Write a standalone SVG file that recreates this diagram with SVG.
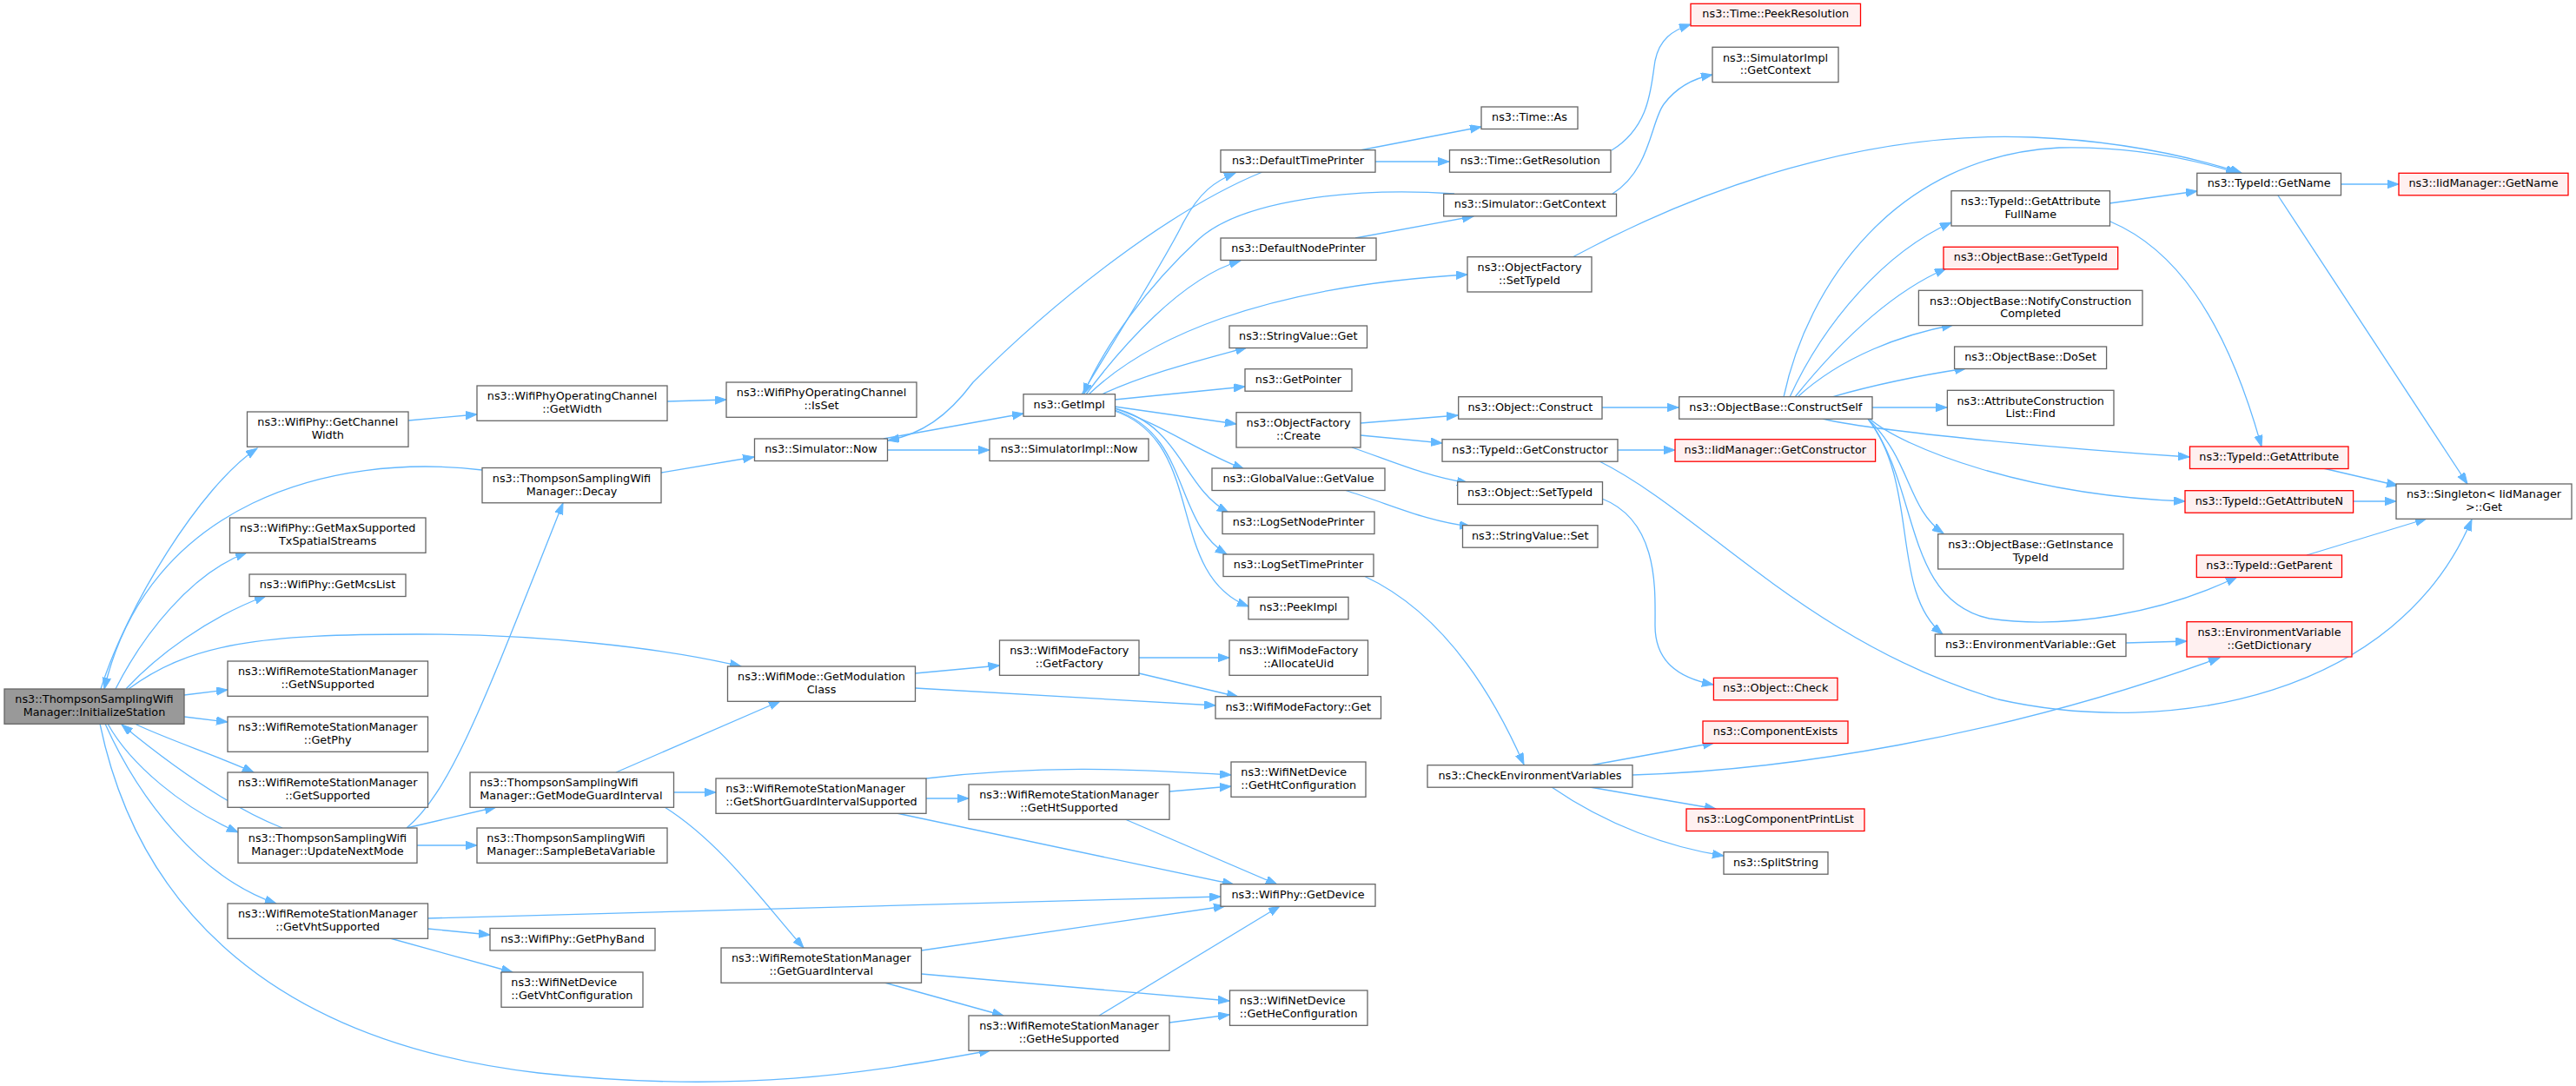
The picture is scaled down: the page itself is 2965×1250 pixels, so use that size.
<svg xmlns="http://www.w3.org/2000/svg" width="2965" height="1250" viewBox="0 0 2965 1250">
<defs>
<style>
.node rect{fill:#fff;stroke:#666;stroke-width:1.3}
.red rect{fill:#fff0f0;stroke:#f00}
.root rect{fill:#999;stroke:#666}
text{font-family:"DejaVu Sans",sans-serif;font-size:12.8px;fill:#000;text-anchor:middle}
text.l{text-anchor:start}
#edges path{fill:none;stroke:#63b8ff;stroke-width:1.3;marker-end:url(#ah)}
</style>
<marker id="ah" markerUnits="userSpaceOnUse" markerWidth="15" markerHeight="11" refX="13" refY="4.7" orient="auto"><path d="M0,0 L13,4.7 L0,9.4 z" fill="#63b8ff" stroke="#63b8ff" stroke-width="1"/></marker>
</defs>
<rect width="2965" height="1250" fill="#fff"/>
<g id="edges">
<path d="M116,793 C145,700 230,560 296,516"/>
<path d="M555,541 C380,520 170,580 120,793"/>
<path d="M133,793 C165,730 220,660 284,636"/>
<path d="M145,793 C180,755 240,710 306,686"/>
<path d="M148,793 C220,740 300,730 480,730 C620,730 760,745 853,767"/>
<path d="M212,800 L262,794"/>
<path d="M212,825 L262,831"/>
<path d="M155,833 C190,850 250,870 292,889"/>
<path d="M325,953 C280,935 220,900 140,834"/>
<path d="M124,833 C150,880 210,930 274,958"/>
<path d="M121,833 C160,920 230,1010 318,1040"/>
<path d="M115,833 C160,1050 320,1200 620,1235 C850,1260 1000,1235 1140,1209"/>
<path d="M470,484 L549,477"/>
<path d="M768,462 L836,460"/>
<path d="M761,544 L868,526"/>
<path d="M1021.5,518 L1139,518"/>
<path d="M1017,505 L1178,476"/>
<path d="M1453,198 C1350,240 1220,340 1120,440 C1090,480 1060,500 1022,507"/>
<path d="M1245,454 C1290,380 1340,300 1360,260 C1380,220 1400,208 1422,199"/>
<path d="M1674,223 C1560,215 1430,230 1380,275 C1320,330 1270,400 1247,454"/>
<path d="M1250,454 C1290,400 1360,320 1428,300"/>
<path d="M1253,454 C1320,390 1450,330 1689,316"/>
<path d="M1268,454 C1320,430 1380,415 1435,400"/>
<path d="M1283,460 L1433,445"/>
<path d="M1283,468 L1423,488"/>
<path d="M1283,470 C1340,490 1380,520 1432,540"/>
<path d="M1283,470 C1360,490 1360,560 1414,590"/>
<path d="M1283,472 C1370,500 1350,600 1412,638"/>
<path d="M1283,473 C1390,510 1340,660 1437,698"/>
<path d="M1565,173 L1705,146"/>
<path d="M1583,186 L1668,186"/>
<path d="M1855,173 C1900,145 1900,100 1905,70 C1910,45 1925,35 1946,28"/>
<path d="M1856,223 C1900,195 1900,140 1915,120 C1930,100 1950,90 1971,86"/>
<path d="M1560,274 L1696,249"/>
<path d="M1810,296 C1960,215 2150,150 2340,158 C2440,162 2520,180 2580,199"/>
<path d="M2053,457 C2080,330 2180,180 2370,170 C2460,168 2530,185 2575,199"/>
<path d="M2060,457 C2100,370 2170,290 2246,256"/>
<path d="M2066,457 C2120,390 2180,335 2240,309"/>
<path d="M2069,457 C2120,410 2190,385 2248,374"/>
<path d="M2108,457 C2150,445 2210,432 2263,424"/>
<path d="M2155,469 L2241,469"/>
<path d="M2098,482 C2150,495 2350,515 2520,526"/>
<path d="M2152,482 C2190,515 2330,570 2515,577"/>
<path d="M2150,482 C2200,530 2195,585 2237,614"/>
<path d="M2150,482 C2210,560 2190,690 2290,712 C2380,725 2490,705 2575,664"/>
<path d="M2150,482 C2210,560 2175,680 2236,730"/>
<path d="M2428,234 L2529,220"/>
<path d="M2429,255 C2500,285 2560,360 2603,514"/>
<path d="M2694.5,212 L2761,212"/>
<path d="M2622,225 L2840,557"/>
<path d="M2674,539 L2760,559"/>
<path d="M2708.6,577 L2758,577"/>
<path d="M2655,639 L2793,597"/>
<path d="M2447,740 L2517,738"/>
<path d="M1879,892 C2050,887 2300,850 2555,757"/>
<path d="M1841,531 C1960,590 2080,740 2300,805 C2500,850 2760,800 2845,598"/>
<path d="M1844,469 L1932,469"/>
<path d="M1566,487 L1678,478"/>
<path d="M1566,501 L1660,510"/>
<path d="M1556,515 C1600,530 1640,548 1690,556"/>
<path d="M1862,518 L1928,518"/>
<path d="M1844,574 C1910,600 1905,680 1905,720 C1905,760 1930,780 1972,788"/>
<path d="M1547,564 C1600,580 1640,600 1693,606"/>
<path d="M1570,663 C1650,700 1710,780 1754,880"/>
<path d="M1830,881 L1973,855"/>
<path d="M1830,906 L1975,931"/>
<path d="M1786,906 C1850,950 1920,975 1984,985"/>
<path d="M1053.5,775 L1150.5,766"/>
<path d="M1053.5,792 L1399,812"/>
<path d="M1311,757 L1415,757"/>
<path d="M1311,775 L1425,802"/>
<path d="M709,889 L898,807"/>
<path d="M468,953 L571,929"/>
<path d="M480,973 L549,973"/>
<path d="M468,953 C520,910 560,800 648,579"/>
<path d="M775.5,912 L824,912"/>
<path d="M765,929 C830,970 880,1040 925,1091"/>
<path d="M1066,896 C1200,880 1300,885 1417,892"/>
<path d="M1066,919 L1115,919"/>
<path d="M1032,936 L1420,1018"/>
<path d="M1346,911 L1417,905"/>
<path d="M1295,943 L1470,1018"/>
<path d="M492,1057 L1405,1032"/>
<path d="M492.5,1069 L564,1076"/>
<path d="M449,1080 L590,1119"/>
<path d="M1060.5,1094 L1410,1043"/>
<path d="M1060.5,1121 L1415,1152"/>
<path d="M1018,1131 L1155,1169"/>
<path d="M1265,1169 L1473,1043"/>
<path d="M1346,1177 L1415,1168"/>
</g>
<g id="n_init" class="node root"><rect x="5" y="793" width="207" height="40.3"/><text x="108.5" y="809.3">ns3::ThompsonSamplingWifi</text><text x="108.5" y="824">Manager::InitializeStation</text></g>
<g id="n_gcw" class="node"><rect x="284.5" y="474" width="185.5" height="40.3"/><text x="377.25" y="490.3">ns3::WifiPhy::GetChannel</text><text x="377.25" y="505">Width</text></g>
<g id="n_opw" class="node"><rect x="549" y="444" width="219" height="40.3"/><text x="658.5" y="460.3">ns3::WifiPhyOperatingChannel</text><text x="658.5" y="475">::GetWidth</text></g>
<g id="n_decay" class="node"><rect x="555" y="538.5" width="206" height="40.3"/><text x="658" y="554.8">ns3::ThompsonSamplingWifi</text><text x="658" y="569.5">Manager::Decay</text></g>
<g id="n_gmss" class="node"><rect x="264.5" y="596" width="225.5" height="40.3"/><text x="377.25" y="612.3">ns3::WifiPhy::GetMaxSupported</text><text x="377.25" y="627">TxSpatialStreams</text></g>
<g id="n_mcs" class="node"><rect x="287" y="661" width="180" height="25.5"/><text x="377" y="677">ns3::WifiPhy::GetMcsList</text></g>
<g id="n_gns" class="node"><rect x="262" y="761" width="230.5" height="40.3"/><text x="377.25" y="777.3">ns3::WifiRemoteStationManager</text><text x="377.25" y="792">::GetNSupported</text></g>
<g id="n_gphy" class="node"><rect x="262" y="825" width="230.5" height="40.3"/><text x="377.25" y="841.3">ns3::WifiRemoteStationManager</text><text x="377.25" y="856">::GetPhy</text></g>
<g id="n_gsup" class="node"><rect x="262" y="889" width="230.5" height="40.3"/><text x="377.25" y="905.3">ns3::WifiRemoteStationManager</text><text x="377.25" y="920">::GetSupported</text></g>
<g id="n_unm" class="node"><rect x="274" y="953" width="206" height="40.3"/><text x="377" y="969.3">ns3::ThompsonSamplingWifi</text><text x="377" y="984">Manager::UpdateNextMode</text></g>
<g id="n_gmgi" class="node"><rect x="541" y="889" width="234.5" height="40.3"/><text class="l" x="552.3" y="905.3">ns3::ThompsonSamplingWifi</text><text class="l" x="552.3" y="920">Manager::GetModeGuardInterval</text></g>
<g id="n_sbv" class="node"><rect x="549" y="953" width="219" height="40.3"/><text class="l" x="560.3" y="969.3">ns3::ThompsonSamplingWifi</text><text class="l" x="560.3" y="984">Manager::SampleBetaVariable</text></g>
<g id="n_gvht" class="node"><rect x="262" y="1040" width="230.5" height="40.3"/><text x="377.25" y="1056.3">ns3::WifiRemoteStationManager</text><text x="377.25" y="1071">::GetVhtSupported</text></g>
<g id="n_gpb" class="node"><rect x="564" y="1068.5" width="190" height="25.5"/><text x="659" y="1084.5">ns3::WifiPhy::GetPhyBand</text></g>
<g id="n_gvc" class="node"><rect x="577" y="1119" width="163" height="40.3"/><text class="l" x="588.3" y="1135.3">ns3::WifiNetDevice</text><text class="l" x="588.3" y="1150">::GetVhtConfiguration</text></g>
<g id="n_isset" class="node"><rect x="836" y="440" width="219" height="40.3"/><text x="945.5" y="456.3">ns3::WifiPhyOperatingChannel</text><text x="945.5" y="471">::IsSet</text></g>
<g id="n_snow" class="node"><rect x="868.5" y="505" width="153" height="25.5"/><text x="945" y="521">ns3::Simulator::Now</text></g>
<g id="n_sinow" class="node"><rect x="1139" y="505" width="183" height="25.5"/><text x="1230.5" y="521">ns3::SimulatorImpl::Now</text></g>
<g id="n_getimpl" class="node"><rect x="1178" y="453.7" width="105.5" height="25.5"/><text x="1230.75" y="469.7">ns3::GetImpl</text></g>
<g id="n_gmc" class="node"><rect x="837.5" y="767" width="216" height="40.3"/><text x="945.5" y="783.3">ns3::WifiMode::GetModulation</text><text x="945.5" y="798">Class</text></g>
<g id="n_gf" class="node"><rect x="1150.5" y="737" width="160.5" height="40.3"/><text x="1230.75" y="753.3">ns3::WifiModeFactory</text><text x="1230.75" y="768">::GetFactory</text></g>
<g id="n_sgis" class="node"><rect x="824" y="896" width="242" height="40.3"/><text class="l" x="835.3" y="912.3">ns3::WifiRemoteStationManager</text><text class="l" x="835.3" y="927">::GetShortGuardIntervalSupported</text></g>
<g id="n_ghts" class="node"><rect x="1115" y="903" width="231" height="40.3"/><text x="1230.5" y="919.3">ns3::WifiRemoteStationManager</text><text x="1230.5" y="934">::GetHtSupported</text></g>
<g id="n_ggi" class="node"><rect x="830" y="1091" width="230.5" height="40.3"/><text x="945.25" y="1107.3">ns3::WifiRemoteStationManager</text><text x="945.25" y="1122">::GetGuardInterval</text></g>
<g id="n_ghes" class="node"><rect x="1115" y="1169" width="231" height="40.3"/><text x="1230.5" y="1185.3">ns3::WifiRemoteStationManager</text><text x="1230.5" y="1200">::GetHeSupported</text></g>
<g id="n_dtp" class="node"><rect x="1405" y="172.7" width="178" height="25.5"/><text x="1494" y="188.7">ns3::DefaultTimePrinter</text></g>
<g id="n_dnp" class="node"><rect x="1405" y="274" width="179" height="25.5"/><text x="1494.5" y="290">ns3::DefaultNodePrinter</text></g>
<g id="n_svget" class="node"><rect x="1415" y="375" width="158.5" height="25.5"/><text x="1494.25" y="391">ns3::StringValue::Get</text></g>
<g id="n_gp" class="node"><rect x="1433" y="424.7" width="123" height="25.5"/><text x="1494.5" y="440.7">ns3::GetPointer</text></g>
<g id="n_ofc" class="node"><rect x="1423" y="474.7" width="143" height="40.3"/><text x="1494.5" y="491">ns3::ObjectFactory</text><text x="1494.5" y="505.7">::Create</text></g>
<g id="n_gvv" class="node"><rect x="1395" y="539" width="199" height="25.5"/><text x="1494.5" y="555">ns3::GlobalValue::GetValue</text></g>
<g id="n_lsnp" class="node"><rect x="1407" y="589" width="175" height="25.5"/><text x="1494.5" y="605">ns3::LogSetNodePrinter</text></g>
<g id="n_lstp" class="node"><rect x="1408" y="638" width="173" height="25.5"/><text x="1494.5" y="654">ns3::LogSetTimePrinter</text></g>
<g id="n_peek" class="node"><rect x="1437" y="687.3" width="115" height="25.5"/><text x="1494.5" y="703.3">ns3::PeekImpl</text></g>
<g id="n_au" class="node"><rect x="1415" y="737" width="159.5" height="40.3"/><text x="1494.75" y="753.3">ns3::WifiModeFactory</text><text x="1494.75" y="768">::AllocateUid</text></g>
<g id="n_wmfget" class="node"><rect x="1399" y="801.7" width="190.5" height="25.5"/><text x="1494.25" y="817.7">ns3::WifiModeFactory::Get</text></g>
<g id="n_htc" class="node"><rect x="1417" y="877" width="155" height="40.3"/><text class="l" x="1428.3" y="893.3">ns3::WifiNetDevice</text><text class="l" x="1428.3" y="908">::GetHtConfiguration</text></g>
<g id="n_gdev" class="node"><rect x="1405" y="1017.7" width="178" height="25.5"/><text x="1494" y="1033.7">ns3::WifiPhy::GetDevice</text></g>
<g id="n_hec" class="node"><rect x="1415.5" y="1140" width="158.5" height="40.3"/><text class="l" x="1426.8" y="1156.3">ns3::WifiNetDevice</text><text class="l" x="1426.8" y="1171">::GetHeConfiguration</text></g>
<g id="n_tpr" class="node red"><rect x="1946" y="4.3" width="195.5" height="25.5"/><text x="2043.75" y="20.3">ns3::Time::PeekResolution</text></g>
<g id="n_sigc" class="node"><rect x="1971" y="54.3" width="145" height="40.3"/><text x="2043.5" y="70.6">ns3::SimulatorImpl</text><text x="2043.5" y="85.3">::GetContext</text></g>
<g id="n_tas" class="node"><rect x="1705" y="123" width="111" height="25.5"/><text x="1760.5" y="139">ns3::Time::As</text></g>
<g id="n_tgr" class="node"><rect x="1668.5" y="172.7" width="185.5" height="25.5"/><text x="1761.25" y="188.7">ns3::Time::GetResolution</text></g>
<g id="n_sgc" class="node"><rect x="1661.7" y="223.3" width="198.8" height="25.5"/><text x="1761.1" y="239.3">ns3::Simulator::GetContext</text></g>
<g id="n_ofst" class="node"><rect x="1689" y="295.7" width="143" height="40.3"/><text x="1760.5" y="312">ns3::ObjectFactory</text><text x="1760.5" y="326.7">::SetTypeId</text></g>
<g id="n_oc" class="node"><rect x="1678.7" y="456.7" width="165.3" height="25.5"/><text x="1761.35" y="472.7">ns3::Object::Construct</text></g>
<g id="n_cs" class="node"><rect x="1932.7" y="456.7" width="222.3" height="25.5"/><text x="2043.85" y="472.7">ns3::ObjectBase::ConstructSelf</text></g>
<g id="n_tgc" class="node"><rect x="1660" y="505.7" width="202" height="25.5"/><text x="1761" y="521.7">ns3::TypeId::GetConstructor</text></g>
<g id="n_igc" class="node red"><rect x="1928" y="505.7" width="230.6" height="25.5"/><text x="2043.3" y="521.7">ns3::IidManager::GetConstructor</text></g>
<g id="n_ost" class="node"><rect x="1677.7" y="554.7" width="166.8" height="25.8"/><text x="1761.1" y="570.7">ns3::Object::SetTypeId</text></g>
<g id="n_svs" class="node"><rect x="1683.5" y="604.7" width="155.5" height="25.5"/><text x="1761.25" y="620.7">ns3::StringValue::Set</text></g>
<g id="n_ochk" class="node red"><rect x="1972.4" y="780.3" width="142.6" height="25.5"/><text x="2043.7" y="796.3">ns3::Object::Check</text></g>
<g id="n_ce" class="node red"><rect x="1960" y="830" width="167" height="25.5"/><text x="2043.5" y="846">ns3::ComponentExists</text></g>
<g id="n_cev" class="node"><rect x="1643" y="880.7" width="236" height="25.5"/><text x="1761" y="896.7">ns3::CheckEnvironmentVariables</text></g>
<g id="n_lcpl" class="node red"><rect x="1941" y="931" width="205" height="25.5"/><text x="2043.5" y="947">ns3::LogComponentPrintList</text></g>
<g id="n_ss" class="node"><rect x="1984" y="980.7" width="120" height="25.5"/><text x="2044" y="996.7">ns3::SplitString</text></g>
<g id="n_tgn" class="node"><rect x="2528.8" y="199.3" width="165.7" height="25.5"/><text x="2611.65" y="215.3">ns3::TypeId::GetName</text></g>
<g id="n_ign" class="node red"><rect x="2761" y="199.3" width="195" height="25.5"/><text x="2858.5" y="215.3">ns3::IidManager::GetName</text></g>
<g id="n_tgafn" class="node"><rect x="2246" y="219.7" width="182.5" height="40.3"/><text x="2337.25" y="236">ns3::TypeId::GetAttribute</text><text x="2337.25" y="250.7">FullName</text></g>
<g id="n_obgt" class="node red"><rect x="2237" y="284.3" width="200.7" height="25.5"/><text x="2337.35" y="300.3">ns3::ObjectBase::GetTypeId</text></g>
<g id="n_obncc" class="node"><rect x="2208.4" y="334.3" width="257.6" height="40.3"/><text x="2337.2" y="350.6">ns3::ObjectBase::NotifyConstruction</text><text x="2337.2" y="365.3">Completed</text></g>
<g id="n_obds" class="node"><rect x="2249.6" y="399" width="175" height="25.5"/><text x="2337.1" y="415">ns3::ObjectBase::DoSet</text></g>
<g id="n_acl" class="node"><rect x="2241.4" y="449.3" width="191.6" height="40.3"/><text x="2337.2" y="465.6">ns3::AttributeConstruction</text><text x="2337.2" y="480.3">List::Find</text></g>
<g id="n_tga" class="node red"><rect x="2520.5" y="514" width="182.5" height="25.5"/><text x="2611.75" y="530">ns3::TypeId::GetAttribute</text></g>
<g id="n_tgan" class="node red"><rect x="2515" y="564.7" width="193.6" height="25.5"/><text x="2611.8" y="580.7">ns3::TypeId::GetAttributeN</text></g>
<g id="n_sing" class="node"><rect x="2758" y="557" width="202" height="40.3"/><text x="2859" y="573.3">ns3::Singleton&lt; IidManager</text><text x="2859" y="588">&gt;::Get</text></g>
<g id="n_obgit" class="node"><rect x="2230.7" y="614.7" width="213.3" height="40.3"/><text x="2337.35" y="631">ns3::ObjectBase::GetInstance</text><text x="2337.35" y="645.7">TypeId</text></g>
<g id="n_tgp" class="node red"><rect x="2528.3" y="639" width="167.2" height="25.5"/><text x="2611.9" y="655">ns3::TypeId::GetParent</text></g>
<g id="n_evg" class="node"><rect x="2227.3" y="730" width="219.7" height="25.5"/><text x="2337.15" y="746">ns3::EnvironmentVariable::Get</text></g>
<g id="n_evgd" class="node red"><rect x="2517" y="715.7" width="190" height="40.3"/><text x="2612" y="732">ns3::EnvironmentVariable</text><text x="2612" y="746.7">::GetDictionary</text></g>
</svg>
